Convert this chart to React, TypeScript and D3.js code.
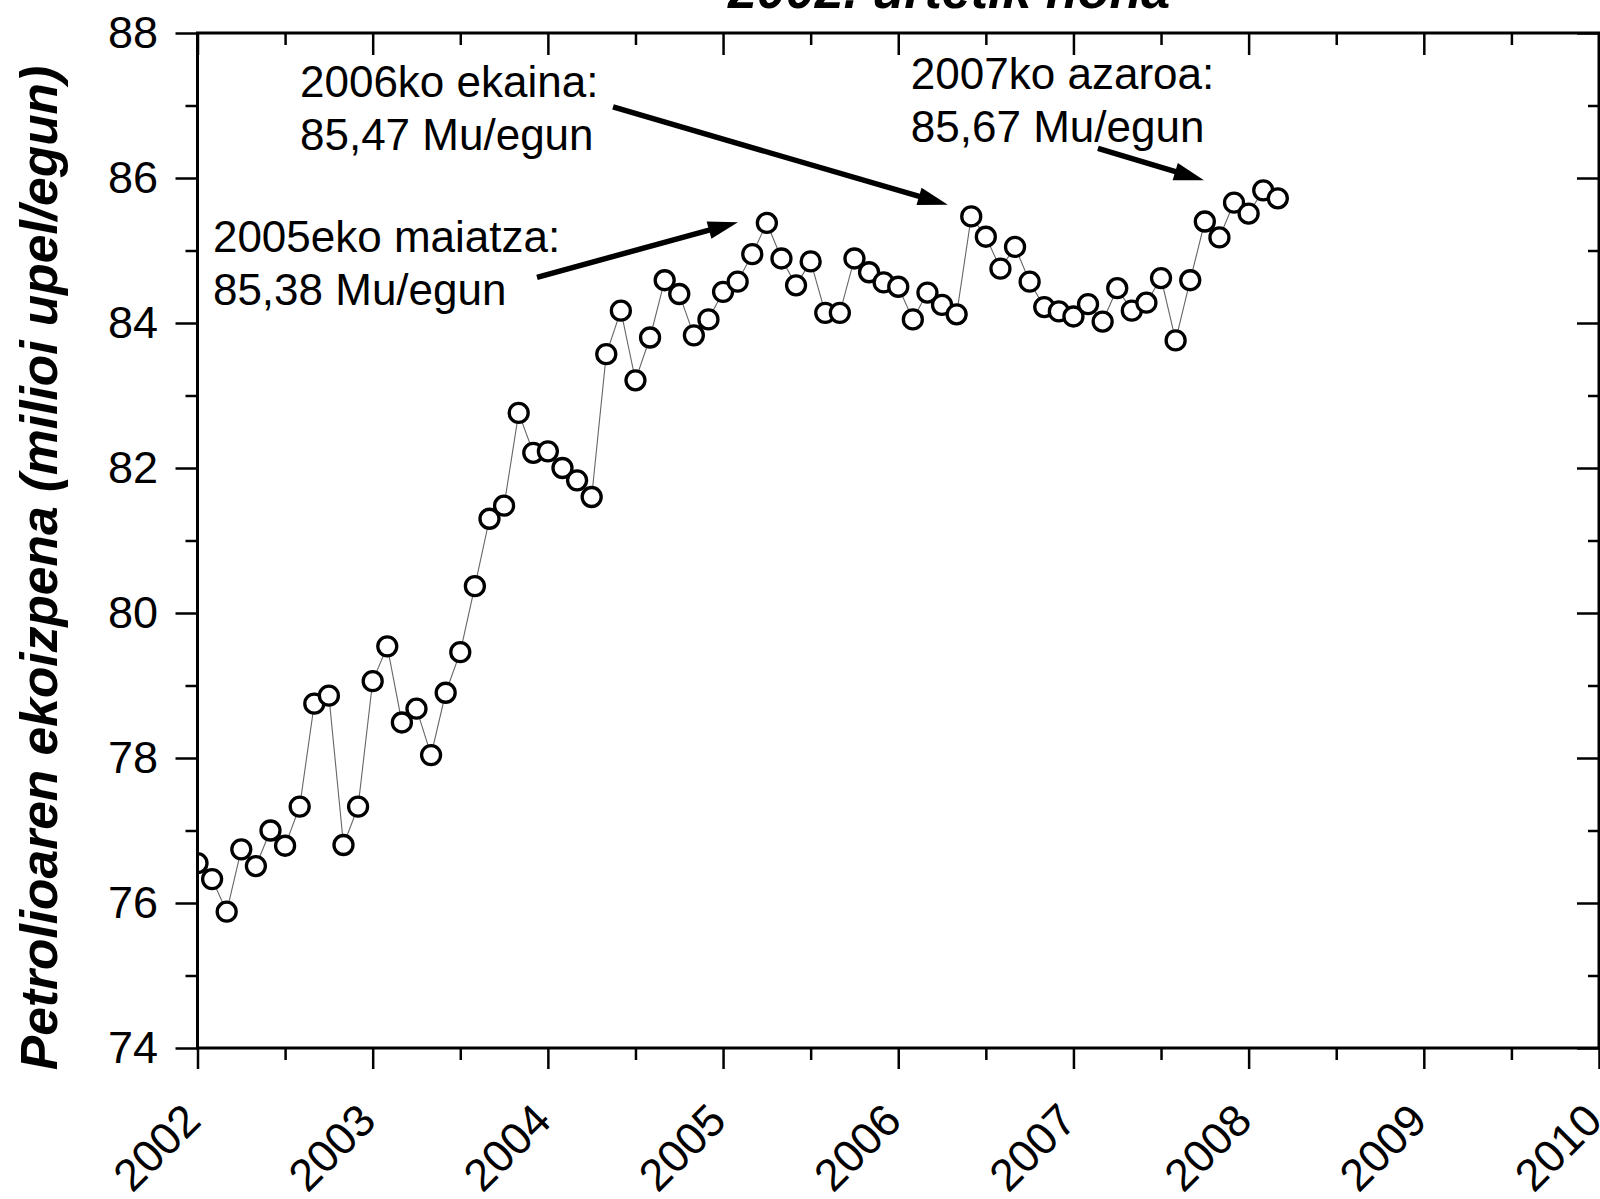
import React, { useEffect, useRef } from 'react';
import * as d3 from 'd3';

// monthly world oil production, Jan 2002 .. Mar 2008 (million barrels/day)
const startYear = 2002;
const production = [
  76.55, 76.33, 75.88, 76.74, 76.51, 77.0, 76.79, 77.33, 78.75, 78.86, 76.8, 77.33,
  79.06, 79.54, 78.49, 78.68, 78.04, 78.9, 79.46, 80.37, 81.3, 81.48, 82.76, 82.21,
  82.23, 82.0, 81.83, 81.6, 83.57, 84.17, 83.21, 83.8, 84.59, 84.4, 83.83, 84.05,
  84.43, 84.57, 84.95, 85.38, 84.89, 84.52, 84.85, 84.14, 84.14, 84.89, 84.7, 84.56,
  84.5, 84.05, 84.42, 84.25, 84.12, 85.47, 85.19, 84.75, 85.05, 84.57, 84.22, 84.16,
  84.09, 84.26, 84.02, 84.48, 84.17, 84.28, 84.62, 83.76, 84.59, 85.4, 85.18, 85.66,
  85.51, 85.83, 85.72,
];
const yearTicks = [2002, 2003, 2004, 2005, 2006, 2007, 2008, 2009, 2010];
const valueTicks = [74, 76, 78, 80, 82, 84, 86, 88];

const titleText = '2002. urtetik hona';
const yTitle = 'Petrolioaren ekoizpena (milioi upel/egun)';

// annotations: text anchor and arrow in data units (decimal year, value)
const notes = [
  { lines: ['2005eko maiatza:', '85,38 Mu/egun'], at: [2002.088, 84.98], from: [2003.938, 84.63], to: [2005.085, 85.39] },
  { lines: ['2006ko ekaina:', '85,47 Mu/egun'], at: [2002.585, 87.12], from: [2004.372, 86.98], to: [2006.283, 85.63] },
  { lines: ['2007ko azaroa:', '85,67 Mu/egun'], at: [2006.072, 87.23], from: [2007.14, 86.41], to: [2007.745, 85.97] },
];

const font = '"Liberation Sans", Arial, sans-serif';

export default function App() {
  const ref = useRef<SVGSVGElement>(null);

  useEffect(() => {
    const left = 197.5, right = 1599, top = 33, bottom = 1048;

    const svg = d3.select(ref.current);
    svg.selectAll('*').remove();

    const x = d3.scaleLinear().domain([2002, 2010]).range([left, right]);
    const y = d3.scaleLinear().domain([74, 88]).range([bottom, top]);

    svg.append('defs').append('clipPath').attr('id', 'plot')
      .append('rect')
      .attr('x', left).attr('y', top)
      .attr('width', right - left).attr('height', bottom - top);

    // title (top line cut off by the page edge)
    svg.append('text')
      .attr('x', 949).attr('y', 8)
      .attr('text-anchor', 'middle')
      .style('font', `italic bold 52px ${font}`)
      .text(titleText);

    // data
    const pts = production.map((v, i) => ({ t: startYear + i / 12, v }));
    const g = svg.append('g').attr('clip-path', 'url(#plot)');
    const line = d3.line<{ t: number; v: number }>().x(d => x(d.t)).y(d => y(d.v));
    g.append('path')
      .attr('d', line(pts))
      .attr('fill', 'none')
      .attr('stroke', '#666')
      .attr('stroke-width', 1.1);
    g.selectAll('circle').data(pts).enter().append('circle')
      .attr('cx', d => x(d.t))
      .attr('cy', d => y(d.v))
      .attr('r', 9.5)
      .attr('fill', 'white')
      .attr('stroke', 'black')
      .attr('stroke-width', 3.3);

    // axes
    const minorX = d3.range(2002.5, 2010, 1);
    const minorY = d3.range(75, 88, 2);

    const xb = svg.append('g').attr('transform', `translate(0,${bottom})`)
      .call(d3.axisBottom(x).tickValues(yearTicks).tickFormat(d3.format('d')).tickSize(21).tickSizeOuter(0));
    xb.selectAll('text')
      .attr('x', 0).attr('y', 0).attr('dy', 0)
      .attr('text-anchor', 'end')
      .attr('transform', `translate(5,75) rotate(-45)`);
    svg.append('g').attr('transform', `translate(0,${bottom})`)
      .call(d3.axisBottom(x).tickValues(minorX).tickFormat(() => '').tickSize(12).tickSizeOuter(0));

    svg.append('g').attr('transform', `translate(0,${top})`)
      .call(d3.axisTop(x).tickValues(yearTicks).tickFormat(() => '').tickSize(-22).tickSizeOuter(0));
    svg.append('g').attr('transform', `translate(0,${top})`)
      .call(d3.axisTop(x).tickValues(minorX).tickFormat(() => '').tickSize(-12).tickSizeOuter(0));

    svg.append('g').attr('transform', `translate(${left},0)`)
      .call(d3.axisLeft(y).tickValues(valueTicks).tickSize(22).tickPadding(17.5).tickSizeOuter(0));
    svg.append('g').attr('transform', `translate(${left},0)`)
      .call(d3.axisLeft(y).tickValues(minorY).tickFormat(() => '').tickSize(12).tickSizeOuter(0));

    svg.append('g').attr('transform', `translate(${right},0)`)
      .call(d3.axisRight(y).tickValues(valueTicks).tickFormat(() => '').tickSize(-22).tickSizeOuter(0));
    svg.append('g').attr('transform', `translate(${right},0)`)
      .call(d3.axisRight(y).tickValues(minorY).tickFormat(() => '').tickSize(-11).tickSizeOuter(0));

    svg.selectAll('.domain').remove();
    svg.selectAll('.tick line').attr('stroke', 'black').attr('stroke-width', 2.5);
    svg.selectAll('.tick text')
      .attr('fill', 'black')
      .style('font', `45px ${font}`);

    svg.append('rect')
      .attr('x', left).attr('y', top)
      .attr('width', right - left).attr('height', bottom - top)
      .attr('fill', 'none')
      .attr('stroke', 'black')
      .attr('stroke-width', 3);

    // y title
    svg.append('text')
      .attr('transform', `translate(57,568) rotate(-90)`)
      .attr('text-anchor', 'middle')
      .style('font', `italic bold 51.5px ${font}`)
      .text(yTitle);

    // annotations
    notes.forEach(n => {
      const t = svg.append('text')
        .attr('x', x(n.at[0])).attr('y', y(n.at[1]))
        .style('font', `44px ${font}`);
      n.lines.forEach((s, i) => {
        t.append('tspan').attr('x', x(n.at[0])).attr('dy', i === 0 ? 0 : 53).text(s);
      });

      const x0 = x(n.from[0]), y0 = y(n.from[1]);
      const x1 = x(n.to[0]), y1 = y(n.to[1]);
      const a = Math.atan2(y1 - y0, x1 - x0);
      const len = 30, hw = 9;
      const bx = x1 - len * Math.cos(a), by = y1 - len * Math.sin(a);
      svg.append('line')
        .attr('x1', x0).attr('y1', y0)
        .attr('x2', bx + 2 * Math.cos(a)).attr('y2', by + 2 * Math.sin(a))
        .attr('stroke', 'black')
        .attr('stroke-width', 5.5);
      svg.append('polygon')
        .attr('points', [
          [x1, y1],
          [bx - hw * Math.sin(a), by + hw * Math.cos(a)],
          [bx + hw * Math.sin(a), by - hw * Math.cos(a)],
        ].map(p => p.join(',')).join(' '))
        .attr('fill', 'black');
    });
  }, []);

  return (
    <svg ref={ref} width={1600} height={1199}
      style={{ position: 'absolute', left: 0, top: 0, background: 'white' }} />
  );
}
